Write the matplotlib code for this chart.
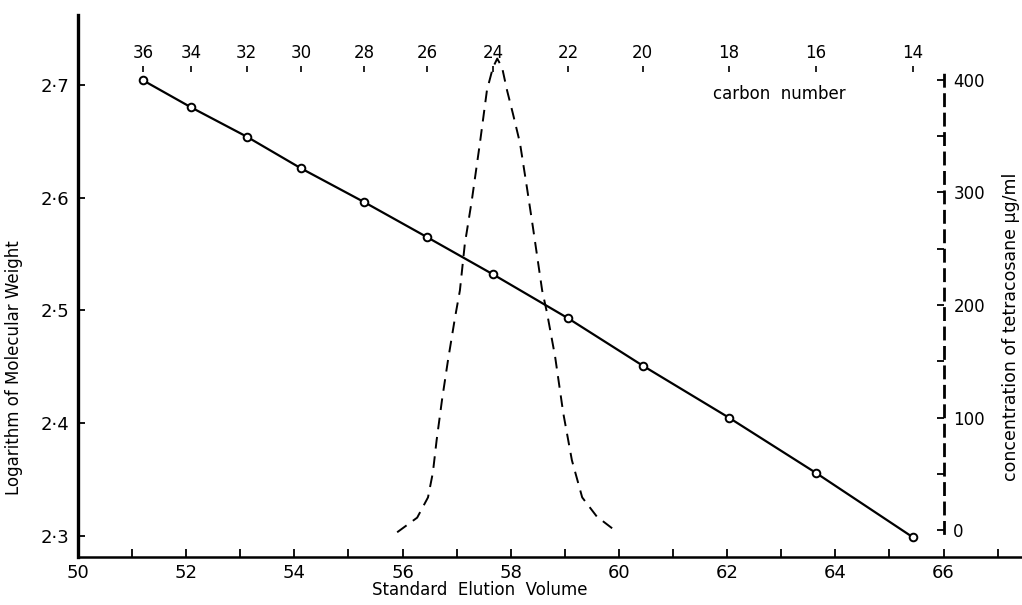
import matplotlib
matplotlib.use('Agg')
import matplotlib.pyplot as plt
from matplotlib.ticker import FixedLocator, FixedFormatter

plt.rcParams.update({
    'font.family': 'DejaVu Sans',
    'font.size': 12,
})

# calibration: elution volume vs log MW of n-alkanes
carbon_numbers = [36, 34, 32, 30, 28, 26, 24, 22, 20, 18, 16, 14]
elution_volume = [51.2, 52.09, 53.12, 54.12, 55.29, 56.45, 57.67,
                  59.06, 60.44, 62.03, 63.64, 65.43]
log_mw = [2.704, 2.680, 2.654, 2.626, 2.596, 2.565, 2.532,
          2.493, 2.451, 2.405, 2.356, 2.299]

# tetracosane elution profile (right axis)
peak_volume = [55.90, 56.27, 56.47, 56.56, 56.63, 56.73, 56.84, 56.97,
               57.06, 57.15, 57.28, 57.43, 57.56, 57.67, 57.75, 57.84,
               57.93, 58.04, 58.17, 58.30, 58.41, 58.58, 58.67, 58.82,
               58.97, 59.13, 59.32, 59.59, 59.97]
peak_conc = [-2, 11, 29, 51, 80, 116, 151, 189,
             213, 254, 293, 344, 391, 411, 419, 411,
             391, 370, 344, 304, 269, 213, 193, 154,
             104, 62, 29, 12, -2]

x_major = [50, 52, 54, 56, 58, 60, 62, 64, 66]
x_minor = [51, 53, 55, 57, 59, 61, 63, 65, 67]
y_ticks = [2.3, 2.4, 2.5, 2.6, 2.7]
y_labels = ['2\u00b73', '2\u00b74', '2\u00b75', '2\u00b76', '2\u00b77']
conc_ticks = [0, 100, 200, 300, 400]
conc_minor = [50, 150, 250, 350]

fig = plt.figure(figsize=(10.22, 6.05), dpi=100)
ax = fig.add_axes([0.0763, 0.0793, 0.9237, 0.896])

ax.plot(elution_volume, log_mw, color='black', linewidth=1.6,
        marker='o', markersize=5.5, markerfacecolor='white',
        markeredgecolor='black', markeredgewidth=1.4, zorder=3)

ax.set_xlim(50, 67.45)
ax.set_ylim(2.2814, 2.7619)

for side in ['top', 'right']:
    ax.spines[side].set_visible(False)
ax.spines['left'].set_linewidth(2.4)
ax.spines['bottom'].set_linewidth(1.8)

ax.xaxis.set_major_locator(FixedLocator(x_major))
ax.xaxis.set_minor_locator(FixedLocator(x_minor))
ax.yaxis.set_major_locator(FixedLocator(y_ticks))
ax.yaxis.set_major_formatter(FixedFormatter(y_labels))
ax.tick_params(axis='x', which='both', direction='in', length=6, width=1.3,
               labelsize=13, pad=5)
ax.tick_params(axis='y', which='major', direction='in', length=5, width=1.3,
               labelsize=13, pad=6)

ax.set_xlabel('Standard  Elution  Volume', fontsize=12)
ax.xaxis.set_label_coords(0.426, -0.045)
ax.set_ylabel('Logarithm of Molecular Weight', fontsize=12)
ax.yaxis.set_label_coords(-0.058, 0.35)

# carbon number scale along the top
top = ax.secondary_xaxis(0.895)
top.spines['top'].set_visible(False)
top.spines['bottom'].set_visible(False)
top.xaxis.set_major_locator(FixedLocator(elution_volume))
top.xaxis.set_major_formatter(FixedFormatter([str(c) for c in carbon_numbers]))
top.tick_params(axis='x', direction='out', length=4, width=1.2,
                labelsize=12, pad=3)
ax.text(0.743, 0.855, 'carbon  number', transform=ax.transAxes,
        ha='center', va='center', fontsize=12)

# concentration axis (dashed) at V = 66
ax2 = ax.twinx()
ax2.plot(peak_volume, peak_conc, color='black', linewidth=1.4,
         linestyle=(0, (6, 4)))
ax2.set_ylim(-24, 457.8)
for side in ['top', 'left', 'bottom']:
    ax2.spines[side].set_visible(False)
ax2.spines['right'].set_position(('data', 66))
ax2.spines['right'].set_linestyle((0, (4, 3)))
ax2.spines['right'].set_linewidth(2.0)
ax2.spines['right'].set_bounds(-3, 408)
ax2.yaxis.set_major_locator(FixedLocator(conc_ticks))
ax2.yaxis.set_minor_locator(FixedLocator(conc_minor))
ax2.tick_params(axis='y', which='both', direction='in', length=5, width=1.3,
                labelsize=12, pad=7)

fig.text(1011 / 1022, 1 - 327 / 605, 'concentration of tetracosane \u03bcg/ml',
         rotation=90, ha='center', va='center', fontsize=12.5)

fig.savefig('out.png', dpi=100)
